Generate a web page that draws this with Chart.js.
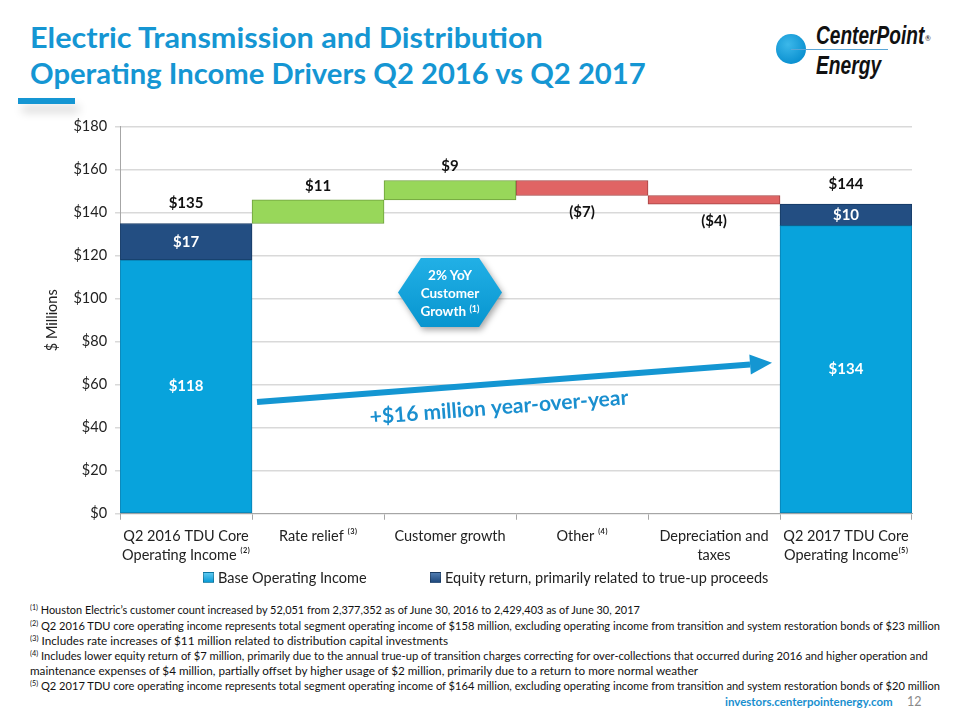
<!DOCTYPE html>
<html><head><meta charset="utf-8">
<script src="https://cdn.jsdelivr.net/npm/chart.js@4"></script>
<style>
body{margin:0;width:960px;height:720px;overflow:hidden;background:#fff;font-family:Lato,"Noto Sans",sans-serif;position:relative;color:#222}
.fit{position:absolute;white-space:nowrap;display:inline-block;transform-origin:left center}
.title{left:30px;color:#1596d3;font-weight:bold;font-size:29px;line-height:34px}
.accent{position:absolute;left:18px;top:98px;width:57px;height:6px;background:#1596d3;box-shadow:4px 8px 10px rgba(0,0,0,0.18)}
.logoCircle{position:absolute;left:776px;top:34px;width:30px;height:30px;border-radius:50%;background:radial-gradient(circle at 40% 35%,#3cb8ea,#0a90d0 75%)}
.logoLine{position:absolute;left:791px;top:49px;width:97px;height:1px;background:#5aa6d6}
.logoTxt{font-family:"Liberation Sans Narrow","Liberation Sans","DejaVu Sans",sans-serif;font-weight:bold;font-style:italic;color:#111;font-size:26px;line-height:28px}
.foot{left:30px;font-size:11.5px;line-height:15px;color:#111}
.foot sup{font-size:7.5px;vertical-align:4px;line-height:0}
#chartWrap{position:absolute;left:0;top:110px;width:960px;height:480px}
.hexWrap{position:absolute;left:398px;top:258px;width:104px;height:69px;filter:drop-shadow(2px 3px 3px rgba(0,0,0,0.35))}
.hex{width:100%;height:100%;clip-path:polygon(22% 0,78% 0,100% 50%,78% 100%,22% 100%,0 50%);background:linear-gradient(180deg,#22b0e6,#0795cf);color:#fff;font-weight:bold;font-size:13.5px;line-height:18px;text-align:center;display:flex;flex-direction:column;justify-content:center}
.hex sup{font-size:9px;vertical-align:4px;line-height:0}
.legend{position:absolute;top:569px;font-size:14.5px;line-height:18px;color:#222;white-space:nowrap}
.legend span.box{display:inline-block;width:9px;height:9px;margin-right:4px;vertical-align:0px;border:1px solid rgba(0,0,0,0.25)}
.url{position:absolute;left:725px;top:695px;font-size:11.5px;font-weight:bold;color:#1a8fcf}
.page{position:absolute;left:907px;top:694px;font-size:12.5px;color:#8a8a8a}
</style></head>
<body>
<div class="fit title" id="t1" style="top:20px" data-w="513">Electric Transmission and Distribution</div>
<div class="fit title" id="t2" style="top:56px" data-w="616">Operating Income Drivers Q2 2016 vs Q2 2017</div>
<div class="accent"></div>
<div class="logoCircle"></div>
<div class="logoLine"></div>
<div class="fit logoTxt" style="left:816px;top:21px" data-w="108">CenterPoint</div>
<div style="position:absolute;left:925px;top:34px;font-size:7px;color:#111">®</div>
<div class="fit logoTxt" style="left:816px;top:51px" data-w="65">Energy</div>

<div id="chartWrap"><canvas id="c" width="960" height="480"></canvas></div>

<div class="hexWrap"><div class="hex"><div>2% YoY</div><div>Customer</div><div>Growth <sup>(1)</sup></div></div></div>

<div class="legend" id="lg1" style="left:203px"></div>
<div class="legend" id="lg2" style="left:430px"></div>

<div class="fit foot" style="top:602px" data-w="610"><sup>(1)</sup> Houston Electric’s customer count increased by 52,051 from 2,377,352 as of June 30, 2016 to 2,429,403 as of June 30, 2017</div>
<div class="fit foot" style="top:618px" data-w="910"><sup>(2)</sup> Q2 2016 TDU core operating income represents total segment operating income of $158 million, excluding operating income from transition and system restoration bonds of $23 million</div>
<div class="fit foot" style="top:633px" data-w="418"><sup>(3)</sup> Includes rate increases of $11 million related to distribution capital investments</div>
<div class="fit foot" style="top:648px" data-w="898"><sup>(4)</sup> Includes lower equity return of $7 million, primarily due to the annual true-up of transition charges correcting for over-collections that occurred during 2016 and higher operation and</div>
<div class="fit foot" style="top:663px" data-w="668">maintenance expenses of $4 million, partially offset by higher usage of $2 million, primarily due to a return to more normal weather</div>
<div class="fit foot" style="top:678px" data-w="910"><sup>(5)</sup> Q2 2017 TDU core operating income represents total segment operating income of $164 million, excluding operating income from transition and system restoration bonds of $20 million</div>

<div class="url">investors.centerpointenergy.com</div>
<div class="page">12</div>

<script>
// ---- data ----
const categories = [
  ["Q2 2016 TDU Core", "Operating Income ⁽²⁾"],
  "Rate relief ⁽³⁾",
  "Customer growth",
  "Other ⁽⁴⁾",
  ["Depreciation and", "taxes"],
  ["Q2 2017 TDU Core", "Operating Income⁽⁵⁾"]
];
const baseValues   = [118, null, null, null, null, 134];
const equityValues = [17,  null, null, null, null, 10];
const changeValues = [null, 11, 9, -7, -4, null];
const yTicks = [0, 20, 40, 60, 80, 100, 120, 140, 160, 180];
const seriesNames = ["Base Operating Income", "Equity return, primarily related to true-up proceeds"];
const arrowText = "+$16 million year-over-year";

// ---- derived floating ranges ----
const equityRanges = equityValues.map((v, i) => v == null ? null : [baseValues[i], baseValues[i] + v]);
let running = baseValues[0] + equityValues[0];
const upRanges = [], downRanges = [];
changeValues.forEach((v, i) => {
  if (v == null) { upRanges.push(null); downRanges.push(null); return; }
  const r = [running, running + v];
  if (v > 0) { upRanges.push(r); downRanges.push(null); } else { downRanges.push(r); upRanges.push(null); }
  running += v;
});
const fmt = v => v < 0 ? `($${-v})` : `$${v}`;

// ---- fit text widths ----
document.querySelectorAll('.fit').forEach(el => {
  const w = +el.dataset.w; if (!w) return;
  el.style.transform = `scaleX(${w / el.offsetWidth})`;
});

// ---- legend ----
const lgColors = ["linear-gradient(180deg,#5cc8f0,#0a9bd6)", "linear-gradient(180deg,#4f7bb0,#1f4a7e)"];
["lg1", "lg2"].forEach((id, i) => {
  document.getElementById(id).innerHTML = `<span class="box" style="background:${lgColors[i]}"></span>${seriesNames[i]}`;
});

Chart.defaults.font.family = "Lato, 'Noto Sans', sans-serif";
Chart.defaults.color = "#222";

const valuePlugin = {
  id: 'vals',
  afterDatasetsDraw(chart) {
    const ctx = chart.ctx;
    ctx.save();
    ctx.textAlign = 'center'; ctx.textBaseline = 'middle';
    ctx.font = "bold 15px Lato, 'Noto Sans', sans-serif";
    const m = [0, 1, 2, 3].map(k => chart.getDatasetMeta(k));
    categories.forEach((c, i) => {
      if (baseValues[i] != null) {
        const el = m[0].data[i];
        ctx.fillStyle = '#fff';
        ctx.fillText(fmt(baseValues[i]), el.x, (el.y + el.base) / 2);
      }
      if (equityValues[i] != null) {
        const el = m[1].data[i];
        ctx.fillStyle = '#fff';
        ctx.fillText(fmt(equityValues[i]), el.x, (el.y + el.base) / 2);
        ctx.fillStyle = '#111';
        ctx.fillText(fmt(baseValues[i] + equityValues[i]), el.x, Math.min(el.y, el.base) - 20);
      }
      if (changeValues[i] != null) {
        const v = changeValues[i];
        const el = (v > 0 ? m[2] : m[3]).data[i];
        ctx.fillStyle = '#111';
        if (v > 0) ctx.fillText(fmt(v), el.x, Math.min(el.y, el.base) - 14);
        else ctx.fillText(fmt(v), el.x, Math.max(el.y, el.base) + 17);
      }
    });
    ctx.restore();
  },
  afterDraw(chart) {
    const ctx = chart.ctx, xs = chart.scales.x, ys = chart.scales.y;
    const half = (xs.getPixelForValue(1) - xs.getPixelForValue(0)) / 2;
    const x1 = xs.getPixelForValue(0) + half + 5, y1 = ys.getPixelForValue(52);
    const x2 = xs.getPixelForValue(5) - half - 8, y2 = ys.getPixelForValue(70.2);
    const ang = Math.atan2(y2 - y1, x2 - x1);
    ctx.save();
    ctx.strokeStyle = '#1496d2'; ctx.fillStyle = '#1496d2';
    ctx.lineWidth = 6;
    const hl = 22, hw = 10;
    const bx = x2 - hl * Math.cos(ang), by = y2 - hl * Math.sin(ang);
    ctx.beginPath(); ctx.moveTo(x1, y1); ctx.lineTo(bx, by); ctx.stroke();
    ctx.beginPath();
    ctx.moveTo(x2, y2);
    ctx.lineTo(bx + hw * Math.sin(ang), by - hw * Math.cos(ang));
    ctx.lineTo(bx - hw * Math.sin(ang), by + hw * Math.cos(ang));
    ctx.closePath(); ctx.fill();
    // caption
    const tx = 499, ty = y1 + (tx - x1) * Math.tan(ang) + 24;
    ctx.translate(tx, ty); ctx.rotate(ang);
    ctx.font = "bold 21px Lato, 'Noto Sans', sans-serif";
    ctx.textAlign = 'center'; ctx.textBaseline = 'middle';
    ctx.fillStyle = '#1a8fcf';
    ctx.fillText(arrowText, 0, 0);
    ctx.restore();
  }
};

new Chart(document.getElementById('c'), {
  type: 'bar',
  data: {
    labels: categories,
    datasets: [
      { label: seriesNames[0], data: baseValues, backgroundColor: '#08a3dc', borderColor: '#0a7fb0', borderWidth: 1, borderSkipped: false },
      { label: seriesNames[1], data: equityRanges, backgroundColor: '#234e82', borderColor: '#163a63', borderWidth: 1, borderSkipped: false },
      { label: 'Increase', data: upRanges, backgroundColor: '#98d75a', borderColor: '#6e9f3c', borderWidth: 1, borderSkipped: false },
      { label: 'Decrease', data: downRanges, backgroundColor: '#e06464', borderColor: '#a34242', borderWidth: 1, borderSkipped: false }
    ]
  },
  options: {
    responsive: false,
    animation: false,
    maintainAspectRatio: false,
    barPercentage: 1,
    categoryPercentage: 1,
    layout: { padding: { left: 44, right: 48, top: 8, bottom: 18 } },
    plugins: { legend: { display: false }, tooltip: { enabled: false } },
    scales: {
      x: {
        stacked: true,
        grid: { display: true, drawOnChartArea: false, drawTicks: true, tickLength: 6, color: '#a6a6a6', offset: true },
        border: { color: '#a6a6a6' },
        ticks: { font: { size: 14.5, lineHeight: 1.25 }, color: '#222', padding: 8, maxRotation: 0, autoSkip: false }
      },
      y: {
        stacked: false,
        min: 0, max: 180,
        afterBuildTicks: s => { s.ticks = yTicks.map(v => ({ value: v })); },
        grid: { color: '#d9d9d9', lineWidth: 1.5, drawTicks: true, tickLength: 5 },
        border: { color: '#a6a6a6' },
        ticks: { callback: v => '$' + v, font: { size: 14.5 }, color: '#222', padding: 8 },
        title: { display: true, text: '$ Millions', font: { size: 14.5 }, color: '#222', padding: { top: 0, bottom: 4 } }
      }
    }
  },
  plugins: [valuePlugin]
});
</script>
</body></html>
